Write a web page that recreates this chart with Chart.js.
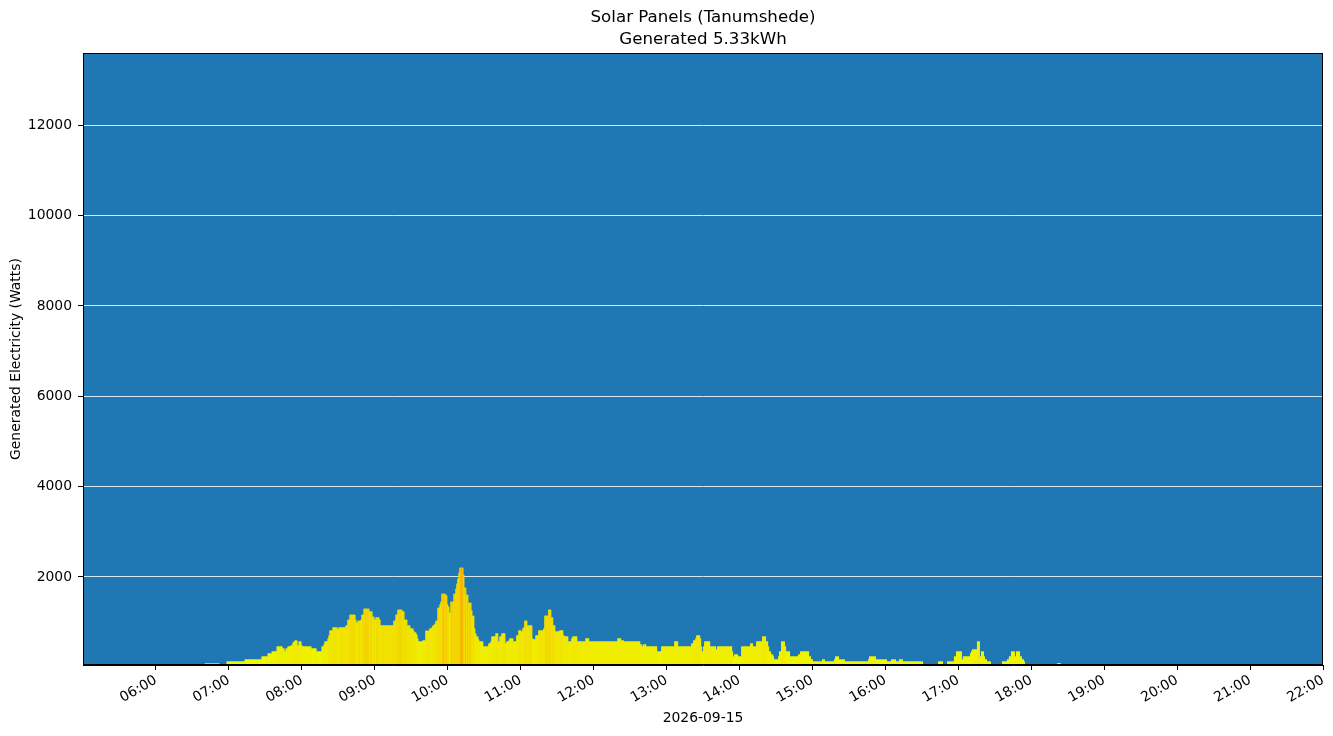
<!DOCTYPE html>
<html>
<head>
<meta charset="utf-8">
<script src="https://cdn.jsdelivr.net/npm/chart.js@4.4.1/dist/chart.umd.min.js"></script>
<style>
  html, body { margin: 0; padding: 0; background: #ffffff; }
  #wrap { width: 1333px; height: 736px; }
</style>
</head>
<body>
<div id="wrap"><canvas id="c" width="1333" height="736"></canvas></div>
<script>
// ---- data (time in minutes since midnight, generated power in watts) ----
const titleLines = ['Solar Panels (Tanumshede)', 'Generated 5.33kWh'];
const dateLabel = '2026-09-15';
const yAxisLabel = 'Generated Electricity (Watts)';
const hourTicks = [360, 420, 480, 540, 600, 660, 720, 780, 840, 900, 960, 1020, 1080, 1140, 1200, 1260, 1320];
const wattTicks = [2000, 4000, 6000, 8000, 10000, 12000];

const morningTimes = [400.0, 412.3, 418.1, 432.9, 446.8, 451.8, 455.1, 459.2, 464.1, 465.8, 466.6, 468.2, 470.7, 472.3, 473.2, 474.0, 476.4, 477.3, 479.7, 480.5, 487.9, 492.1, 496.2, 497.8, 498.6, 501.1, 501.9, 502.7, 505.2, 509.3, 510.1, 515.9, 517.5, 519.2, 524.1, 524.9, 525.8, 528.2, 529.0, 530.7, 535.6, 538.1, 539.7, 540.5, 543.8, 544.7, 555.3, 557.0, 558.6, 562.7, 564.4, 566.8, 569.3, 571.8, 572.6, 574.2, 575.1, 575.9, 579.2, 581.6, 584.9, 586.6, 587.4, 589.0, 589.9, 591.5, 593.2, 594.0, 594.8, 598.1, 598.9, 599.7, 600.5, 601.4, 602.2, 604.7, 606.3, 607.1, 607.9, 608.8, 609.6, 612.9, 613.7, 615.3, 617.0, 619.5, 620.3, 621.9, 622.7, 623.6, 625.2, 626.0, 629.3, 633.4, 635.1, 635.9, 639.2, 641.6, 642.5, 644.1, 647.4, 648.2, 649.9, 650.7, 654.0, 656.4, 658.1, 660.5, 661.4, 662.2, 663.0, 665.5, 669.6, 670.4, 672.1, 674.5, 678.6, 679.5, 682.7, 685.2, 686.8, 688.5, 691.8, 695.1, 695.9, 699.2, 701.6, 702.5, 706.6, 713.2, 716.4];
const morningWatts = [81, 0, 125, 170, 236, 303, 347, 458, 413, 347, 413, 458, 480, 546, 568, 590, 480, 568, 480, 458, 413, 347, 458, 502, 568, 635, 701, 812, 878, 855, 878, 922, 1054, 1165, 1054, 988, 1032, 1054, 1165, 1298, 1232, 1121, 1054, 1099, 1054, 922, 1032, 1165, 1276, 1232, 1054, 922, 856, 811, 767, 723, 635, 568, 590, 811, 856, 878, 922, 966, 1032, 1320, 1387, 1453, 1630, 1608, 1586, 1387, 1342, 1209, 1453, 1630, 1741, 1851, 1962, 2095, 2206, 2051, 1763, 1608, 1431, 1254, 1143, 856, 745, 679, 613, 568, 458, 524, 568, 679, 745, 568, 679, 745, 524, 568, 590, 635, 568, 701, 812, 789, 856, 878, 1032, 922, 635, 613, 701, 812, 856, 1143, 1276, 1099, 922, 789, 812, 701, 679, 568, 635, 679, 568, 635, 568];

const afternoonTimes = [739.5, 742.7, 745.2, 758.4, 760.0, 760.8, 763.3, 772.3, 775.6, 786.3, 789.6, 800.3, 801.9, 803.6, 804.4, 807.7, 808.5, 809.3, 810.1, 811.0, 815.9, 820.8, 821.6, 834.0, 834.8, 835.6, 838.9, 841.4, 848.8, 851.2, 853.7, 858.6, 861.9, 863.6, 864.4, 866.0, 867.7, 868.5, 871.8, 872.6, 874.2, 877.5, 878.4, 881.6, 888.2, 889.9, 897.3, 898.9, 900.5, 907.9, 910.4, 917.8, 918.6, 921.9, 926.8, 945.8, 946.6, 952.3, 961.4, 964.7, 968.8, 971.2, 974.5, 991.0, 1003.3, 1007.4, 1010.7, 1016.4, 1018.1, 1023.0, 1023.8, 1029.6, 1030.4, 1031.2, 1035.3, 1037.8, 1038.6, 1041.1, 1041.9, 1043.6, 1046.8, 1055.9, 1060.0, 1061.6, 1063.3, 1066.6, 1067.4, 1070.7, 1072.3, 1074.0, 1074.8, 1101.1, 1104.4];
const afternoonWatts = [635, 590, 568, 502, 458, 502, 458, 347, 458, 568, 458, 524, 590, 635, 701, 635, 458, 347, 458, 568, 458, 391, 458, 347, 236, 281, 236, 458, 524, 458, 568, 679, 568, 458, 347, 281, 236, 170, 236, 347, 568, 458, 347, 236, 281, 347, 236, 170, 125, 170, 125, 170, 236, 170, 125, 170, 236, 170, 125, 170, 125, 170, 125, 0, 125, 0, 125, 236, 347, 170, 236, 303, 347, 391, 568, 236, 347, 236, 170, 125, 0, 125, 170, 236, 347, 236, 347, 236, 170, 125, 0, 90, 0];

// ---- build chart ----
const allTimes = morningTimes.concat(afternoonTimes);
const allWatts = morningWatts.concat(afternoonWatts);
const points = allTimes.map((t, i) => ({ x: t, y: allWatts[i] }));

function barColor(v) {
  const g = Math.max(150, Math.round(255 - 0.032 * v));
  const r = Math.min(255, Math.round(238 + 0.003 * v));
  return 'rgb(' + r + ',' + g + ',0)';
}
function hhmm(m) {
  const h = Math.floor(m / 60), mm = Math.round(m % 60);
  return String(h).padStart(2, '0') + ':' + String(mm).padStart(2, '0');
}

const FONT = 'DejaVu Sans';
const TICK_SIZE = 13.9;

const frame = {
  id: 'frame',
  beforeDraw(chart) {
    const a = chart.chartArea, ctx = chart.ctx;
    ctx.save();
    ctx.fillStyle = '#1f77b4';
    ctx.fillRect(a.left, a.top, a.right - a.left, a.bottom - a.top);
    ctx.restore();
  },
  afterDraw(chart) {
    const a = chart.chartArea, ctx = chart.ctx;
    ctx.save();
    ctx.strokeStyle = '#000';
    ctx.lineWidth = 1;
    ctx.strokeRect(Math.round(a.left) + 0.5, Math.round(a.top) + 0.5, Math.round(a.right - a.left) - 1, Math.round(a.bottom - a.top) - 1);
    ctx.restore();
  }
};

new Chart(document.getElementById('c'), {
  type: 'line',
  data: {
    datasets: [{
      // per-reading coloured bars (on top)
      data: points,
      order: 0,
      stepped: true,
      fill: 'origin',
      pointRadius: 0,
      borderWidth: 0,
      borderColor: 'rgba(0,0,0,0)',
      backgroundColor: barColor(500),
      segment: {
        backgroundColor: ctx => barColor(ctx.p0.parsed.y)
      }
    }, {
      // same readings as a single solid underlay (hides seams between bars)
      data: points,
      order: 1,
      stepped: true,
      fill: 'origin',
      pointRadius: 0,
      borderWidth: 0,
      borderColor: 'rgba(0,0,0,0)',
      backgroundColor: barColor(600)
    }]
  },
  plugins: [frame],
  options: {
    responsive: false,
    animation: false,
    devicePixelRatio: 1,
    layout: { padding: { left: 0, right: 10, top: 0, bottom: 0 } },
    plugins: {
      legend: { display: false },
      tooltip: { enabled: false },
      title: {
        display: true,
        text: titleLines,
        fullSize: false,
        color: '#000',
        font: { family: FONT, size: 16.67, weight: 'normal', lineHeight: 1.3 },
        padding: { top: 7, bottom: 2.7 }
      }
    },
    scales: {
      x: {
        type: 'linear',
        min: 300,
        max: 1320,
        z: 1,
        afterBuildTicks: s => { s.ticks = hourTicks.map(v => ({ value: v })); },
        afterFit: s => { s.height = 71; s.paddingLeft = 0; s.paddingRight = 0; },
        ticks: {
          autoSkip: false,
          minRotation: 30,
          maxRotation: 30,
          padding: 2,
          color: '#000',
          font: { family: FONT, size: TICK_SIZE },
          callback: v => hhmm(v)
        },
        grid: { drawOnChartArea: false, drawTicks: true, tickLength: 5, tickColor: '#000' },
        border: { display: true, color: '#000', width: 1 },
        title: {
          display: true,
          text: dateLabel,
          color: '#000',
          font: { family: FONT, size: TICK_SIZE },
          padding: { top: 0, bottom: 9 }
        }
      },
      y: {
        min: 50,
        max: 13600,
        z: 1,
        afterBuildTicks: s => { s.ticks = wattTicks.map(v => ({ value: v })); },
        afterFit: s => { s.width = 83; s.paddingTop = 0; s.paddingBottom = 0; },
        ticks: {
          padding: 6,
          color: '#000',
          font: { family: FONT, size: TICK_SIZE },
          callback: v => String(v)
        },
        grid: { color: '#d6e7f3', lineWidth: 1, drawTicks: true, tickLength: 5, tickColor: '#000' },
        border: { display: true, color: '#000', width: 1 },
        title: {
          display: true,
          text: yAxisLabel,
          color: '#000',
          font: { family: FONT, size: TICK_SIZE },
          padding: { top: 8, bottom: 0 }
        }
      }
    }
  }
});
</script>
</body>
</html>
